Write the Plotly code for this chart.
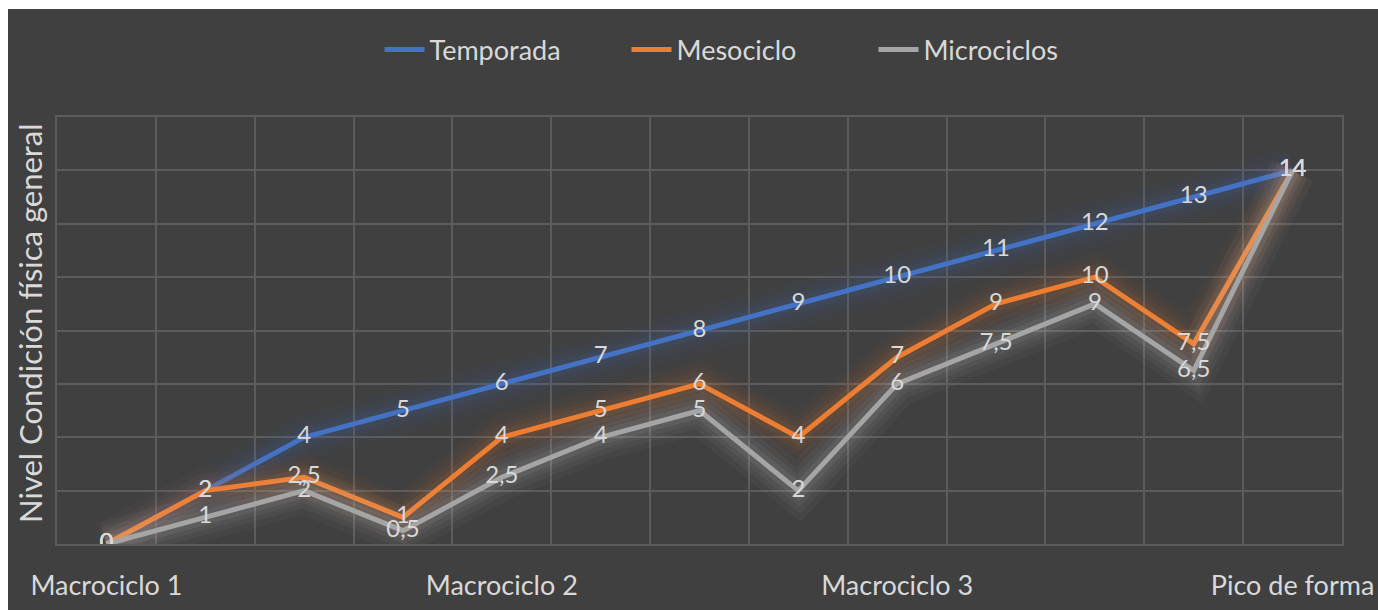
import plotly.graph_objects as go

# ---- data ----
periods = list(range(13))
tick_positions = [0, 4, 8, 12]
tick_labels = ["Macrociclo 1", "Macrociclo 2", "Macrociclo 3", "Pico de forma"]

series_names = ["Temporada", "Mesociclo", "Microciclos"]
temporada = [0, 2, 4, 5, 6, 7, 8, 9, 10, 11, 12, 13, 14]
mesociclo = [0, 2, 2.5, 1, 4, 5, 6, 4, 7, 9, 10, 7.5, 14]
microciclos = [0, 1, 2, 0.5, 2.5, 4, 5, 2, 6, 7.5, 9, 6.5, 14]

colors = ["#4472C4", "#ED7D31", "#A5A5A5"]
glow_rgb = ["68,114,196", "237,125,49", "225,225,225"]
BG = "#404040"
GRID = "#5c5c5c"
TXT = "#D9D9D9"
FONT = "Lato"

fig = go.Figure()
all_series = [temporada, mesociclo, microciclos]

for name, vals, col, grgb in zip(series_names, all_series, colors, glow_rgb):
    for w, a in [(46, 0.035), (34, 0.045), (24, 0.055), (15, 0.07)]:
        fig.add_trace(go.Scatter(
            x=periods, y=vals, mode="lines",
            line=dict(color=f"rgba({grgb},{a})", width=w, shape="linear"),
            hoverinfo="skip", showlegend=False))
    fig.add_trace(go.Scatter(
        x=periods, y=vals, mode="lines", name=name,
        line=dict(color=col, width=5)))

# data labels on top
for vals in all_series:
    fig.add_trace(go.Scatter(
        x=periods, y=vals, mode="text",
        text=[f"{v:g}".replace(".", ",") for v in vals],
        textposition="middle center",
        textfont=dict(family=FONT, size=24, color=TXT),
        hoverinfo="skip", showlegend=False))

L, R, T, B = 57, 36, 117, 66
W, H = 1378, 610
pw, ph = W - L - R, H - T - B

fig.update_layout(
    width=W, height=H,
    margin=dict(l=L, r=R, t=T, b=B, autoexpand=False),
    paper_bgcolor=BG, plot_bgcolor=BG,
    font=dict(family=FONT, color=TXT),
    separators=",.",
    showlegend=True,
    legend=dict(orientation="h", x=(750 - L) / pw, xanchor="center",
                y=(H - B - 50) / ph, yanchor="middle",
                font=dict(family=FONT, size=27, color=TXT),
                entrywidth=192, entrywidthmode="pixels",
                bgcolor="rgba(0,0,0,0)", itemwidth=40, tracegroupgap=0),
    xaxis=dict(range=[-0.5, 12.5], tickmode="array", tickvals=tick_positions,
               ticktext=tick_labels, showgrid=False, zeroline=False, automargin=False,
               tickfont=dict(family=FONT, size=27, color=TXT),
               ticks="", ticklabelstandoff=17,
               minor=dict(tick0=0.5, dtick=1, showgrid=True, gridcolor=GRID, gridwidth=1.5),
               showline=True, mirror=True, linecolor=GRID, linewidth=1.5),
    yaxis=dict(range=[0, 16], dtick=2, showgrid=True, gridcolor=GRID, gridwidth=1.5,
               showticklabels=False, zeroline=False, ticks="", automargin=False,
               showline=True, mirror=True, linecolor=GRID, linewidth=1.5),
    shapes=[
        dict(type="rect", xref="paper", yref="paper",
             x0=-0.2, x1=1.2, y0=(H - B - 9) / ph, y1=1.6,
             fillcolor="white", line=dict(width=0), layer="above"),
        dict(type="rect", xref="paper", yref="paper",
             x0=-0.2, x1=(8 - L) / pw, y0=-0.5, y1=1.6,
             fillcolor="white", line=dict(width=0), layer="above"),
    ],
    annotations=[dict(text="Nivel Condición física general", textangle=-90,
                      xref="paper", yref="paper", x=(30 - L) / pw, y=(H - B - 323) / ph,
                      xanchor="center", yanchor="middle", showarrow=False,
                      font=dict(family=FONT, size=31, color=TXT))],
)

fig.write_html("out.html")
